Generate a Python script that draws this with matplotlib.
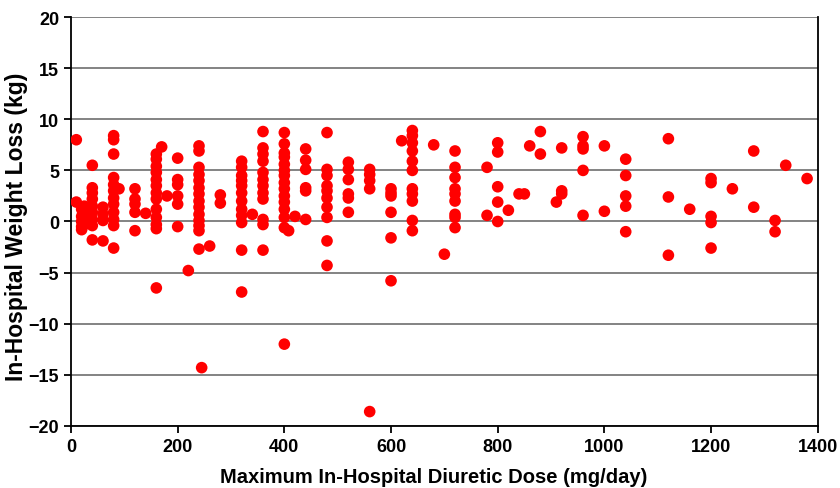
import matplotlib
matplotlib.use("Agg")
from matplotlib import pyplot as plt

# maximum in-hospital diuretic dose (mg/day) and weight loss (kg)
dose = (
    [10] * 2 + [20] * 5 + [25] * 4 + [40] * 9 + [60] * 4 + [80] * 12 + [90]
    + [120] * 5 + [140] + [160] * 13 + [170] + [180] + [200] * 6 + [220]
    + [240] * 14 + [245] + [260] + [280] * 2 + [320] * 12 + [340] + [360] * 12
    + [400] * 15 + [408] + [420] + [440] * 6 + [480] * 10 + [520] * 6
    + [560] * 5 + [600] * 6 + [620] + [640] * 11 + [680] + [700] + [720] * 9
    + [780] * 2 + [800] * 5 + [820] + [840] + [850] + [860] + [880] * 2 + [910]
    + [920] * 3 + [960] * 5 + [1000] * 2 + [1040] * 5 + [1120] * 3 + [1160]
    + [1200] * 5 + [1240] + [1280] * 2 + [1320] * 2 + [1340] + [1380]
)

loss = [
    8.0, 1.9,
    1.2, 0.5, 0.0, -0.5, -0.8,
    0.9, 0.2, -0.3, 1.5,
    5.5, 3.3, 2.8, 2.2, 1.5, 0.9, 0.2, -0.4, -1.8,
    1.4, 0.7, 0.1, -1.9,
    8.4, 8.0, 6.6, 4.3, 3.6, 3.0, 2.3, 1.7, 0.9, 0.2, -0.4, -2.6,
    3.2,
    3.2, 2.2, 1.7, 0.9, -0.9,
    0.8,
    6.6, 6.1, 5.4, 4.8, 4.1, 3.5, 2.8, 2.2, 1.2, 0.4, -0.3, -0.7, -6.5,
    7.3,
    2.5,
    6.2, 4.1, 3.6, 2.5, 1.7, -0.5,
    -4.8,
    7.4, 6.9, 5.3, 4.6, 4.0, 3.3, 2.7, 2.0, 1.4, 0.7, 0.1, -0.4, -0.9, -2.7,
    -14.3,
    -2.4,
    2.6, 1.8,
    5.9, 5.3, 4.5, 4.0, 3.5, 2.8, 2.0, 1.2, 0.6, -0.1, -2.8, -6.9,
    0.7,
    8.8, 7.2, 6.6, 5.9, 4.8, 4.1, 3.5, 2.8, 2.2, 0.2, -0.3, -2.8,
    8.7, 7.6, 6.7, 6.3, 5.6, 5.0, 4.5, 3.8, 3.2, 2.5, 1.9, 1.2, 0.4, -0.6, -12.0,
    -0.9,
    0.5,
    7.1, 6.0, 5.1, 3.3, 3.0, 0.2,
    8.7, 5.1, 4.5, 3.5, 3.0, 2.3, 1.4, 0.4, -1.9, -4.3,
    5.8, 5.1, 4.1, 2.7, 2.3, 0.9,
    5.1, 4.6, 4.0, 3.2, -18.6,
    3.2, 2.8, 2.5, 0.9, -1.6, -5.8,
    7.9,
    8.9, 8.4, 7.7, 6.9, 5.9, 5.0, 3.2, 2.7, 2.0, 0.1, -0.9,
    7.5,
    -3.2,
    6.9, 5.3, 4.3, 3.2, 2.7, 2.0, 0.7, 0.4, -0.6,
    5.3, 0.6,
    7.7, 6.8, 3.4, 1.9, 0.0,
    1.1,
    2.7,
    2.7,
    7.4,
    8.8, 6.6,
    1.9,
    7.2, 3.0, 2.7,
    8.3, 7.4, 7.1, 5.0, 0.6,
    7.4, 1.0,
    6.1, 4.5, 2.5, 1.5, -1.0,
    8.1, 2.4, -3.3,
    1.2,
    4.2, 3.8, 0.5, -0.1, -2.6,
    3.2,
    6.9, 1.4,
    0.1, -1.0,
    5.5,
    4.2,
]

x_ticks = [0, 200, 400, 600, 800, 1000, 1200, 1400]
y_ticks = [-20, -15, -10, -5, 0, 5, 10, 15, 20]

plt.rcParams["font.family"] = ["Liberation Sans", "DejaVu Sans"]

fig = plt.figure(figsize=(8.4, 4.89), dpi=100)
ax = fig.add_axes([0.0845, 0.127, 0.889, 0.836])

ax.scatter(dose, loss, s=70, color="#ff0000", edgecolors="none", zorder=3)

ax.set_xlim(0, 1400)
ax.set_ylim(-20, 20)
ax.set_xticks(x_ticks)
ax.set_yticks(y_ticks)
ax.yaxis.grid(True, color="#7a7a7a", linewidth=1.3)
ax.set_axisbelow(True)

for s in ["left", "bottom", "right"]:
    ax.spines[s].set_color("black")
    ax.spines[s].set_linewidth(1.3)
ax.spines["top"].set_visible(False)

ax.tick_params(axis="both", direction="out", length=5, width=1.3, labelsize=13)
for lab in ax.get_xticklabels() + ax.get_yticklabels():
    lab.set_fontweight("bold")

ax.set_xlabel("Maximum In-Hospital Diuretic Dose (mg/day)", fontsize=14.5, fontweight="bold")
ax.set_ylabel("In-Hospital Weight Loss (kg)", fontsize=16.5, fontweight="bold")
ax.xaxis.set_label_coords(0.486, -0.10)
ax.yaxis.set_label_coords(-0.058, 0.49)

fig.savefig("out.png", dpi=100)
